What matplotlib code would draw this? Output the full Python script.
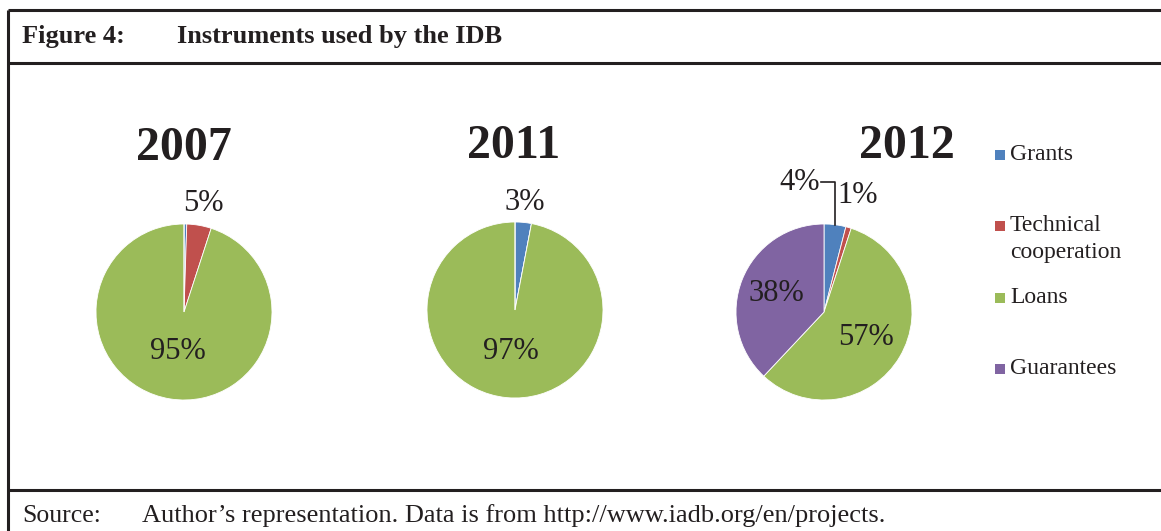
import numpy as np
import matplotlib
matplotlib.use("Agg")
from matplotlib import pyplot as plt

years = ["2007", "2011", "2012"]
instruments = ["Grants", "Technical\ncooperation", "Loans", "Guarantees"]
colors = ["#4F81BD", "#C0504D", "#9BBB59", "#8064A2"]
shares_2007 = [0.5, 4.5, 95, 0]
shares_2011 = [3, 0, 97, 0]
shares_2012 = [4, 1, 57, 38]
labels_2007 = ["", "5%", "95%", ""]
labels_2011 = ["3%", "", "97%", ""]
labels_2012 = ["4%", "1%", "57%", "38%"]

W, H = 1161, 531
fig = plt.figure(figsize=(W / 100, H / 100), dpi=100)
ax = fig.add_axes([0, 0, 1, 1])
ax.set_xlim(0, W)
ax.set_ylim(0, H)
ax.set_aspect("equal")
ax.axis("off")

serif = "Liberation Serif"
ink = "#231f20"

# frame lines
lk = dict(color=ink, lw=2.2, solid_capstyle="butt")
ax.plot([8, W], [H - 10, H - 10], **lk)
ax.plot([8, W], [H - 63, H - 63], **lk)
ax.plot([8, W], [H - 490, H - 490], **lk)
ax.plot([8, 8], [0, H - 10], **lk)

ax.text(22, H - 37, "Figure 4:", fontfamily=serif, fontweight="bold", fontsize=19,
        va="center", ha="left", color=ink)
ax.text(177, H - 37, "Instruments used by the IDB", fontfamily=serif, fontweight="bold",
        fontsize=19, va="center", ha="left", color=ink)
ax.text(22, H - 516, "Source:", fontfamily=serif, fontsize=18.5, va="center", ha="left",
        color=ink)
ax.text(142, H - 516, "Author\u2019s representation. Data is from http://www.iadb.org/en/projects.",
        fontfamily=serif, fontsize=19, va="center", ha="left", color=ink)

pies = [
    (shares_2007, labels_2007, (184, 312), (184, 148), [1.25, 1.25, 0.45, 0.5]),
    (shares_2011, labels_2011, (515, 310), (514, 146), [1.23, 1.2, 0.47, 0.5]),
    (shares_2012, labels_2012, (824, 312), (907, 146), [1.5, 1.38, 0.56, 0.58]),
]
R = 88

for (vals, labs, (cx, cy), (tx, ty), dists), yr in zip(pies, years):
    ax.pie(vals, colors=colors, startangle=90, counterclock=False, radius=R,
           center=(cx, H - cy), frame=True,
           wedgeprops=dict(linewidth=0.6, edgecolor="white"))
    ax.text(tx, H - ty, yr, fontfamily=serif, fontweight="bold", fontsize=34.5,
            ha="center", va="center", color=ink)
    total = sum(vals)
    start = 90.0
    for v, lab, d in zip(vals, labs, dists):
        ang = start - 360 * v / total / 2
        start -= 360 * v / total
        if not lab:
            continue
        a = np.deg2rad(ang)
        lx = cx + d * R * np.cos(a)
        ly = H - cy + d * R * np.sin(a)
        if yr == "2012" and lab == "4%":
            # leader line for the small grants slice
            ex = cx + R * np.cos(a)
            ey = H - cy + R * np.sin(a)
            lx, ly = cx - 24, H - 182
            ax.plot([lx + 21, ex, ex], [ly, ly, ey], color=ink, lw=1.2)
        ax.text(lx, ly, lab, fontfamily=serif, fontsize=22, ha="center", va="center",
                color=ink)

ax.set_xlim(0, W)
ax.set_ylim(0, H)
ax.axis("off")

legend_y = [155, 226, 298, 369]
for c, lab, yy in zip(colors, instruments, legend_y):
    ax.add_patch(plt.Rectangle((995, H - yy - 5), 10, 10, facecolor=c, edgecolor="none"))
    ax.text(1010, H - yy + 11, lab, fontfamily=serif, fontsize=17, ha="left", va="top",
            color=ink, linespacing=1.4)

fig.savefig("out.png", dpi=100)
